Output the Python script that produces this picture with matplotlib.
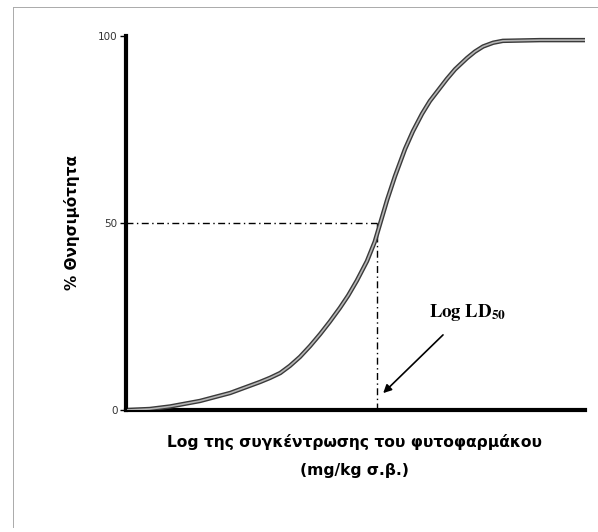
import matplotlib
matplotlib.use("Agg")
import matplotlib.pyplot as plt
from matplotlib.lines import Line2D

# dose-response curve (x in arbitrary log units 0..10)
log_dose = [0.04, 0.52, 0.96, 1.61, 2.27, 2.48, 2.92, 3.14, 3.36, 3.57, 3.79,
            4.01, 4.23, 4.44, 4.66, 4.84, 5.03, 5.25, 5.42, 5.49, 5.69, 5.86,
            6.08, 6.25, 6.45, 6.62, 6.99, 7.17, 7.43, 7.60, 7.78, 8.00, 8.21,
            9.02, 10.0]
mortality = [0.0, 0.27, 0.94, 2.41, 4.55, 5.5, 7.49, 8.6, 9.89, 11.8, 14.2,
             17.1, 20.3, 23.6, 27.3, 30.6, 34.6, 39.8, 45.0, 47.9, 56.2, 62.5,
             69.8, 74.5, 79.2, 82.6, 88.5, 91.1, 94.1, 95.8, 97.2, 98.2, 98.7,
             98.9, 98.9]
ld50 = 5.47
yticks = [0, 50, 100]

fig = plt.figure(figsize=(5.98, 5.32), dpi=100)
ax = fig.add_axes([126 / 598, 1 - 410 / 532, (585 - 126) / 598, (410 - 36) / 532])

# curve drawn as a dark outline with a grey core, like the scan
ax.plot(log_dose, mortality, color="#3a3a3a", lw=3.2, solid_capstyle="butt",
        solid_joinstyle="round", zorder=3)
ax.plot(log_dose, mortality, color="#b5b5b5", lw=1.2, solid_joinstyle="round", zorder=4)

# LD50 guide lines
ax.plot([0, ld50], [50, 50], color="black", lw=1, linestyle=(0, (5, 2.5, 1, 2.5)))
ax.plot([ld50, ld50], [0, 50], color="black", lw=1, linestyle=(0, (5, 2.5, 1, 2.5)))

ax.set_xlim(0, 10)
ax.set_ylim(0, 100)
ax.spines["top"].set_visible(False)
ax.spines["right"].set_visible(False)
ax.spines["left"].set_linewidth(3)
ax.spines["bottom"].set_linewidth(3)
ax.set_xticks([])
ax.set_yticks(yticks)
ax.tick_params(axis="y", length=4, width=1, pad=2, labelsize=7.5, labelcolor="#333333")

fig.text(72 / 598, 1 - 222 / 532, "% Θνησιμότητα", rotation=90,
         ha="center", va="center", fontsize=11, fontweight="bold")

fig.text(354 / 598, 1 - 442 / 532, "Log της συγκέντρωσης του φυτοφαρμάκου",
         ha="center", va="center", fontsize=11.2, fontweight="bold")
fig.text(354 / 598, 1 - 470 / 532, "(mg/kg σ.β.)",
         ha="center", va="center", fontsize=11.2, fontweight="bold")

ax.annotate("", xy=(5.56, 4.0), xytext=(6.95, 20.6),
            arrowprops=dict(arrowstyle="-|>", color="black", lw=1.2,
                            mutation_scale=12))
ax.text(7.43, 26.2, r"$\mathbf{Log\ LD}_{\mathbf{50}}$", fontsize=13.5,
        ha="center", va="center", math_fontfamily="stix")

# scan border remnants
fig.add_artist(Line2D([13 / 598, 1], [1 - 7 / 532, 1 - 7 / 532], color="#aaaaaa", lw=0.7))
fig.add_artist(Line2D([13 / 598, 13 / 598], [1 - 7 / 532, 1 - 527 / 532], color="#aaaaaa", lw=0.7))

fig.savefig("out.png", dpi=100)
